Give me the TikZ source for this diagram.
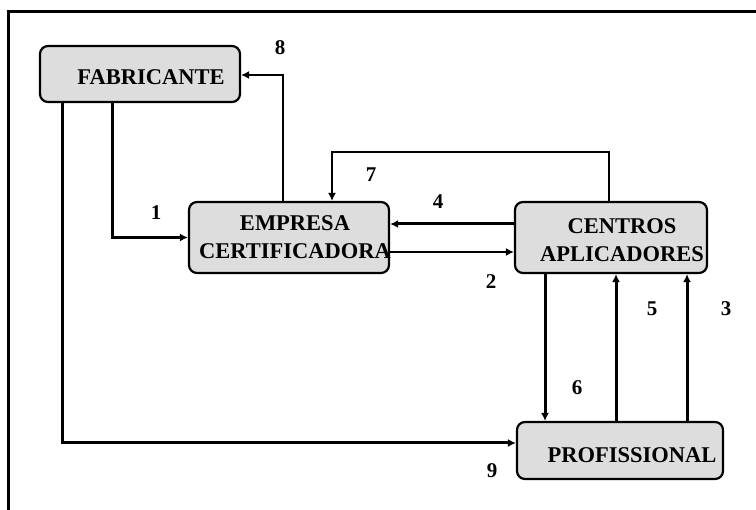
\documentclass[tikz,border=0pt]{standalone}
\usepackage{fontspec}
\setmainfont{Liberation Serif}
\usetikzlibrary{arrows.meta}
\tikzset{
  box/.style={draw, line width=2.2pt, rounded corners=8pt, fill=gray!27, inner sep=0pt},
  boxtext/.style={font=\fontsize{22.5}{28}\selectfont\bfseries, align=center, inner sep=0pt},
  num/.style={font=\fontsize{21}{24}\selectfont\bfseries, inner sep=0pt},
  thickarr/.style={line width=3pt, -{Latex[length=8pt,width=8pt]}},
  thinarr/.style={line width=1.4pt, -{Latex[length=8pt,width=8pt]}},
}
\begin{document}
\begin{tikzpicture}[x=1pt, y=-1pt]
\useasboundingbox (0,0) rectangle (756,510);
\draw[line width=2.8pt] (8.5,510) -- (8.5,11.5) -- (756,11.5);

\node[box, minimum width=200pt, minimum height=56pt] (fab) at (140,74) {};
\node[box, minimum width=200pt, minimum height=71pt] (emp) at (289,237.5) {};
\node[box, minimum width=192pt, minimum height=71pt] (cen) at (611,237.5) {};
\node[box, minimum width=206pt, minimum height=57pt] (prof) at (620,450.5) {};

\node[boxtext] (tfab) at (151,77) {FABRICANTE};
\node[boxtext] (temp) at (295,237) {EMPRESA\\CERTIFICADORA};
\node[boxtext] (tcen) at (622,240) {CENTROS\\APLICADORES};
\node[boxtext] (tprof) at (632,455) {PROFISSIONAL};

% 8
\draw[thinarr] ([xshift=-6pt]emp.north) |- ([yshift=-1pt]fab.east);
% 1
\draw[thickarr] ([xshift=-28pt]fab.south) |- (emp.west);
% 9
\draw[thickarr] ([xshift=-78pt]fab.south) |- ([yshift=7.5pt]prof.west);
% 7
\draw[thinarr] ([xshift=-2pt]cen.north) -- ++(0,-49) -| ([xshift=43pt]emp.north);
% 4
\draw[thickarr] ([yshift=13.5pt]cen.west) -- ([yshift=13.5pt]emp.east);
% 2
\draw[line width=2pt, -{Latex[length=8pt,width=8pt]}] ([yshift=-14.5pt]emp.east) -- ([yshift=-14.5pt]cen.west);
% 6
\coordinate (c6) at ([xshift=-66pt]cen.south);
\draw[thickarr] (c6) -- (c6 |- prof.north);
% 5
\coordinate (c5) at ([xshift=-4pt]prof.north);
\draw[thickarr] (c5) -- (c5 |- cen.south);
% 3
\coordinate (c3) at ([xshift=67pt]prof.north);
\draw[thickarr] (c3) -- (c3 |- cen.south);

\node[num] (n8) at (280,48) {8};
\node[num] (n1) at (156,213) {1};
\node[num] (n7) at (371,175) {7};
\node[num] (n4) at (438,202) {4};
\node[num] (n2) at (491,282) {2};
\node[num] (n6) at (577,388) {6};
\node[num] (n5) at (652,309) {5};
\node[num] (n3) at (726,309) {3};
\node[num] (n9) at (492,471) {9};
\end{tikzpicture}
\end{document}
